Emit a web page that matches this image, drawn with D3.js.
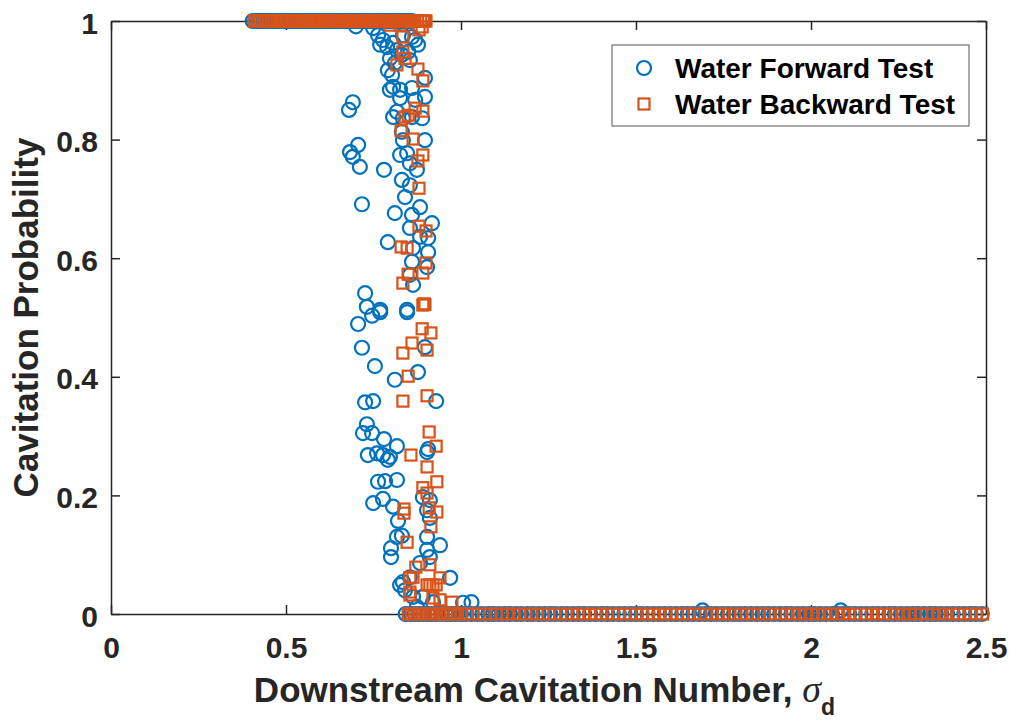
<!DOCTYPE html>
<html>
<head>
<meta charset="utf-8">
<script src="https://cdn.jsdelivr.net/npm/d3@7"></script>
<style>
  body { margin: 0; background: #fff; }
  text { font-family: "Liberation Sans", Arial, sans-serif; font-weight: bold; }
</style>
</head>
<body>
<svg id="chart" width="1010" height="723"></svg>
<script>
// tick values
const xTicks = [0, 0.5, 1, 1.5, 2, 2.5];
const yTicks = [0, 0.2, 0.4, 0.6, 0.8, 1];
const seriesNames = ["Water Forward Test", "Water Backward Test"];

// forward test: runs at p = 1 and p = 0, plus the transition points [sigma, p]
const forwardOnes = [0.405, 0.412, 0.42, 0.428, 0.436, 0.445, 0.452, 0.46, 0.471, 0.48, 0.488, 0.497,
  0.505, 0.516, 0.524, 0.533, 0.541, 0.552, 0.56, 0.569, 0.578, 0.587, 0.596, 0.605, 0.613, 0.622,
  0.632, 0.641, 0.65, 0.659, 0.668, 0.677, 0.686, 0.695, 0.704, 0.713, 0.722, 0.731, 0.741, 0.75,
  0.76, 0.769, 0.778, 0.788, 0.797, 0.806, 0.815, 0.824, 0.833, 0.842, 0.851, 0.86];
const forwardZeros = [0.842, 0.856, 0.868, 0.879, 0.892, 0.905, 0.917, 0.93, 0.944, 0.958, 0.971, 0.985,
  1.0, 1.014, 1.03, 1.046, 1.061, 1.078, 1.092, 1.108, 1.124, 1.14, 1.157, 1.172, 1.19, 1.205, 1.222,
  1.238, 1.255, 1.27, 1.287, 1.303, 1.32, 1.336, 1.352, 1.369, 1.385, 1.402, 1.418, 1.434, 1.451,
  1.467, 1.484, 1.5, 1.516, 1.533, 1.55, 1.566, 1.582, 1.599, 1.615, 1.632, 1.648, 1.664, 1.681,
  1.698, 1.714, 1.73, 1.747, 1.763, 1.78, 1.796, 1.812, 1.829, 1.846, 1.862, 1.878, 1.895, 1.912,
  1.928, 1.944, 1.961, 1.977, 1.994, 2.01, 2.026, 2.043, 2.06, 2.076, 2.092, 2.109, 2.125, 2.142,
  2.158, 2.175, 2.191, 2.208, 2.224, 2.24, 2.257, 2.274, 2.29, 2.306, 2.323, 2.34, 2.356, 2.372,
  2.389, 2.405, 2.422, 2.438, 2.455, 2.471, 2.488];
const forwardScatter = [
  [0.70, 0.991], [0.749, 0.988], [0.763, 0.976], [0.777, 0.968], [0.769, 0.96], [0.789, 0.956],
  [0.806, 0.963], [0.817, 0.951], [0.834, 0.976], [0.86, 0.973], [0.877, 0.96], [0.869, 0.968],
  [0.797, 0.937], [0.811, 0.929], [0.791, 0.917], [0.803, 0.909], [0.854, 0.934], [0.849, 0.948],
  [0.831, 0.943], [0.897, 0.904], [0.806, 0.889], [0.797, 0.884], [0.826, 0.884], [0.86, 0.887],
  [0.897, 0.872], [0.826, 0.87], [0.869, 0.867], [0.691, 0.863], [0.68, 0.85], [0.817, 0.847],
  [0.806, 0.838], [0.834, 0.836], [0.86, 0.838], [0.889, 0.836], [0.897, 0.799], [0.834, 0.799],
  [0.831, 0.813], [0.706, 0.791], [0.683, 0.779], [0.691, 0.771], [0.826, 0.774], [0.846, 0.777],
  [0.711, 0.754], [0.78, 0.749], [0.854, 0.76], [0.874, 0.749], [0.831, 0.732], [0.854, 0.723],
  [0.84, 0.703], [0.717, 0.691], [0.811, 0.676], [0.86, 0.673], [0.883, 0.686], [0.917, 0.659],
  [0.854, 0.651], [0.883, 0.636], [0.906, 0.634], [0.791, 0.627], [0.863, 0.617], [0.906, 0.61],
  [0.86, 0.594], [0.903, 0.585], [0.854, 0.572], [0.863, 0.555], [0.726, 0.541], [0.731, 0.518],
  [0.769, 0.513], [0.846, 0.513], [0.769, 0.509], [0.746, 0.503], [0.706, 0.489], [0.846, 0.509],
  [0.897, 0.45], [0.717, 0.449], [0.754, 0.418], [0.811, 0.395], [0.877, 0.408], [0.726, 0.357],
  [0.749, 0.359], [0.929, 0.359], [0.731, 0.32], [0.72, 0.305], [0.746, 0.305], [0.78, 0.295],
  [0.817, 0.283], [0.906, 0.278], [0.734, 0.268], [0.76, 0.271], [0.777, 0.268], [0.797, 0.265],
  [0.791, 0.26], [0.903, 0.273], [0.763, 0.223], [0.783, 0.224], [0.817, 0.226], [0.749, 0.187],
  [0.777, 0.194], [0.806, 0.181], [0.82, 0.157], [0.891, 0.197], [0.911, 0.192], [0.903, 0.175],
  [0.911, 0.162], [0.817, 0.13], [0.831, 0.132], [0.903, 0.13], [0.94, 0.116], [0.80, 0.111],
  [0.80, 0.096], [0.903, 0.108], [0.911, 0.096], [0.883, 0.086], [0.969, 0.061], [0.834, 0.054],
  [0.854, 0.062], [0.826, 0.049], [0.84, 0.04], [0.863, 0.029], [0.891, 0.029], [0.92, 0.02],
  [0.874, 0.012], [1.006, 0.019], [1.03, 0.02], [1.69, 0.006], [2.085, 0.006]
];

// backward test
const backwardOnes = [0.41, 0.418, 0.426, 0.434, 0.443, 0.451, 0.459, 0.468, 0.477, 0.485, 0.494, 0.503,
  0.511, 0.52, 0.529, 0.537, 0.546, 0.555, 0.564, 0.572, 0.581, 0.59, 0.598, 0.607, 0.616, 0.625,
  0.634, 0.642, 0.651, 0.66, 0.669, 0.678, 0.687, 0.696, 0.705, 0.714, 0.723, 0.732, 0.741, 0.75,
  0.759, 0.768, 0.777, 0.786, 0.795, 0.804, 0.813, 0.822, 0.831, 0.84, 0.849, 0.858, 0.867, 0.876,
  0.885, 0.893, 0.9];
const backwardZeros = [0.849, 0.858, 0.866, 0.874, 0.882, 0.89, 0.898, 0.906, 0.914, 0.922, 0.93, 0.94,
  0.95, 0.96, 0.97, 0.98, 0.99, 1.0, 1.016, 1.033, 1.05, 1.066, 1.083, 1.1, 1.117, 1.133, 1.15,
  1.167, 1.183, 1.2, 1.217, 1.234, 1.25, 1.267, 1.284, 1.3, 1.317, 1.334, 1.35, 1.367, 1.384, 1.4,
  1.417, 1.434, 1.45, 1.467, 1.484, 1.5, 1.517, 1.534, 1.55, 1.567, 1.584, 1.6, 1.617, 1.634, 1.65,
  1.667, 1.684, 1.7, 1.717, 1.734, 1.75, 1.767, 1.784, 1.8, 1.817, 1.834, 1.85, 1.867, 1.884, 1.912,
  1.93, 1.948, 1.966, 1.984, 2.002, 2.02, 2.038, 2.056, 2.074, 2.092, 2.11, 2.128, 2.155, 2.173,
  2.191, 2.209, 2.227, 2.245, 2.263, 2.281, 2.298, 2.315, 2.33, 2.348, 2.366, 2.384, 2.405, 2.42,
  2.438, 2.455, 2.472, 2.49];
const backwardScatter = [
  [0.897, 1.0], [0.889, 0.99], [0.826, 0.993], [0.797, 0.993], [0.88, 0.985], [0.834, 0.973],
  [0.834, 0.948], [0.84, 0.937], [0.817, 0.926], [0.877, 0.919], [0.891, 0.899], [0.869, 0.853],
  [0.891, 0.848], [0.84, 0.838], [0.849, 0.841], [0.829, 0.815], [0.863, 0.801], [0.891, 0.774],
  [0.877, 0.764], [0.88, 0.718], [0.88, 0.654], [0.9, 0.646], [0.829, 0.619], [0.846, 0.617],
  [0.9, 0.592], [0.891, 0.575], [0.849, 0.573], [0.834, 0.558], [0.894, 0.523], [0.891, 0.521],
  [0.897, 0.522], [0.889, 0.481], [0.914, 0.474], [0.86, 0.457], [0.834, 0.44], [0.903, 0.445],
  [0.849, 0.401], [0.834, 0.359], [0.903, 0.368], [0.909, 0.307], [0.929, 0.283], [0.857, 0.268],
  [0.903, 0.248], [0.931, 0.223], [0.891, 0.213], [0.903, 0.204], [0.909, 0.179], [0.931, 0.172],
  [0.837, 0.177], [0.837, 0.17], [0.914, 0.147], [0.846, 0.121], [0.911, 0.083], [0.871, 0.079],
  [0.863, 0.062], [0.854, 0.061], [0.94, 0.061], [0.903, 0.049], [0.911, 0.049], [0.92, 0.049],
  [0.929, 0.049], [0.854, 0.037], [0.854, 0.032], [0.92, 0.027], [0.94, 0.024], [0.974, 0.02]
];

const forward = forwardOnes.map(x => [x, 1])
  .concat(forwardScatter)
  .concat(forwardZeros.map(x => [x, 0]));
const backward = backwardOnes.map(x => [x, 1])
  .concat(backwardScatter)
  .concat(backwardZeros.map(x => [x, 0]));

const blue = "#0072BD", orange = "#D95319", axisColor = "#262626";
const margin = {left: 111, top: 21, right: 1010 - 986, bottom: 723 - 614};
const width = 1010, height = 723;

const svg = d3.select("#chart");

const xScale = d3.scaleLinear().domain([0, 2.5]).range([margin.left, width - margin.right]);
const yScale = d3.scaleLinear().domain([0, 1]).range([height - margin.bottom, margin.top]);

// axes (drawn under the markers, like MATLAB)
const tickLen = 9;
const axes = svg.append("g").attr("class", "axes");

axes.append("g")
  .attr("transform", "translate(0," + yScale(0) + ")")
  .call(d3.axisBottom(xScale).tickValues(xTicks).tickFormat(d3.format("")).tickSizeInner(-tickLen).tickSizeOuter(0).tickPadding(23));
axes.append("g")
  .attr("transform", "translate(0," + yScale(1) + ")")
  .call(d3.axisTop(xScale).tickValues(xTicks).tickFormat("").tickSizeInner(-tickLen).tickSizeOuter(0));
const yAxisG = axes.append("g")
  .attr("transform", "translate(" + xScale(0) + ",0)")
  .call(d3.axisLeft(yScale).tickValues(yTicks).tickFormat(d3.format("")).tickSizeInner(-tickLen).tickSizeOuter(0).tickPadding(13));
axes.append("g")
  .attr("transform", "translate(" + xScale(2.5) + ",0)")
  .call(d3.axisRight(yScale).tickValues(yTicks).tickFormat("").tickSizeInner(-tickLen).tickSizeOuter(0));

axes.selectAll("path.domain, line").attr("stroke", axisColor).attr("stroke-width", 1.5);
axes.selectAll("text")
  .attr("fill", axisColor)
  .style("font-size", "30px")
  .style("font-family", "'Liberation Sans', Arial, sans-serif")
  .style("font-weight", "bold");
yAxisG.selectAll("g.tick text").attr("dy", "0.4em");

// markers
const markerR = 7, markerW = 2.2, sq = 11;
svg.append("g")
  .selectAll("circle")
  .data(forward)
  .enter()
  .append("circle")
  .attr("cx", d => xScale(d[0]))
  .attr("cy", d => yScale(d[1]))
  .attr("r", markerR)
  .attr("fill", "none")
  .attr("stroke", blue)
  .attr("stroke-width", markerW);

svg.append("g")
  .selectAll("rect")
  .data(backward)
  .enter()
  .append("rect")
  .attr("x", d => xScale(d[0]) - sq / 2)
  .attr("y", d => yScale(d[1]) - sq / 2)
  .attr("width", sq)
  .attr("height", sq)
  .attr("fill", "none")
  .attr("stroke", orange)
  .attr("stroke-width", markerW);

// axis labels
const xLabel = svg.append("text")
  .attr("x", (xScale(0) + xScale(2.5)) / 2 - 4)
  .attr("y", 702)
  .attr("text-anchor", "middle")
  .attr("fill", axisColor)
  .style("font-size", "35px");
xLabel.append("tspan").text("Downstream Cavitation Number, ");
xLabel.append("tspan")
  .style("font-family", "'Liberation Serif', 'Times New Roman', serif")
  .style("font-style", "italic")
  .style("font-weight", "normal")
  .style("font-size", "38px")
  .text("\u03c3");
xLabel.append("tspan")
  .attr("dy", 13)
  .style("font-size", "23px")
  .text("d");

svg.append("text")
  .attr("transform", "translate(38," + (yScale(0) + yScale(1)) / 2 + ") rotate(-90)")
  .attr("text-anchor", "middle")
  .attr("fill", axisColor)
  .style("font-size", "35px")
  .text("Cavitation Probability");

// legend
const legend = svg.append("g").attr("class", "legend");
legend.append("rect")
  .attr("x", 612).attr("y", 45).attr("width", 357).attr("height", 81)
  .attr("fill", "#fff").attr("stroke", "#555").attr("stroke-width", 1);

const entries = legend.selectAll("g.entry")
  .data(seriesNames)
  .enter()
  .append("g")
  .attr("class", "entry")
  .attr("transform", (d, i) => "translate(644," + (68 + i * 36) + ")");

entries.filter((d, i) => i === 0).append("circle")
  .attr("r", markerR).attr("fill", "none").attr("stroke", blue).attr("stroke-width", markerW);
entries.filter((d, i) => i === 1).append("rect")
  .attr("x", -sq / 2).attr("y", -sq / 2).attr("width", sq).attr("height", sq)
  .attr("fill", "none").attr("stroke", orange).attr("stroke-width", markerW);
entries.append("text")
  .attr("x", 31)
  .attr("y", 10)
  .attr("fill", "#000")
  .style("font-size", "28px")
  .text(d => d);
</script>
</body>
</html>
